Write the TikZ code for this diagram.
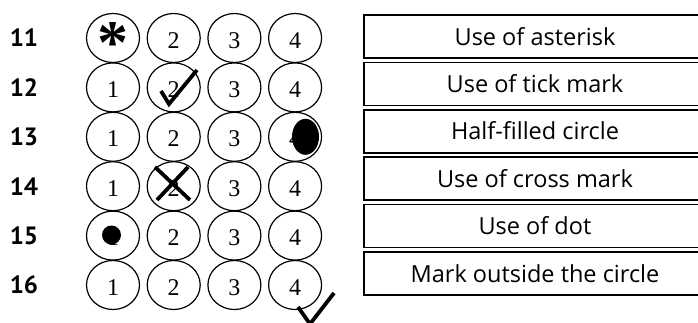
\documentclass[tikz,border=0pt]{standalone}
\usepackage{fontspec}
\setmainfont{Liberation Serif}
\setsansfont{PT Sans}
\newfontfamily\capfont{Open Sans}
\usetikzlibrary{positioning,shapes.geometric,calc}

\begin{document}
\begin{tikzpicture}[x=1pt,y=-1pt,
  bubble/.style={ellipse,draw,line width=1.2pt,minimum width=53pt,
              minimum height=49pt,inner sep=0pt,text height=20pt,text depth=0pt,
              font=\fontsize{24}{24}\selectfont},
  qnum/.style={font=\sffamily\bfseries\fontsize{25}{25}\selectfont},
  optbox/.style={draw,line width=1.6pt,minimum width=342pt,minimum height=43pt,
              inner sep=0pt,text height=17pt,text depth=0pt,
              font=\capfont\fontsize{23.5}{23.5}\selectfont},
  pen/.style={line width=3.8pt,line join=miter},
]
\useasboundingbox (0,0) rectangle (698,322);

% --- answer grid: question number + four bubbles per row
\foreach \q [count=\r from 0] in {11,...,16} {
  \node[qnum] (q\q) at (24,38+49.4*\r) {\q};
  \foreach \c in {1,...,4}
    \node[bubble] (b\q-\c) at (113+60.7*\c-60.7,38+49.4*\r)
      {\ifnum\q\c=111 \else\c\fi};
}

% --- captions, one box per row (right side runs off the page)
\foreach \txt [count=\r from 0] in {Use of asterisk,Use of tick mark,
    Half-filled circle,Use of cross mark,Use of dot,Mark outside the circle}
  \node[optbox] (opt\r) at (535,36.5+47.4*\r) {\txt};

% --- the marks
\node[font=\bfseries\fontsize{62}{62}\selectfont] (ast)
     at ([yshift=-5pt]b11-1.center) {*};
\draw[pen] ([shift={(-12.7,3.6)}]b12-2.center)
        -- ([shift={(-4.7,16.6)}]b12-2.center)
        -- ([shift={(23.3,-17.4)}]b12-2.center);
\fill ([xshift=10.4pt]b13-4.center) ellipse [x radius=13.5pt,y radius=18pt];
\draw[pen] ([shift={(-18.7,-19.2)}]b14-2.center) -- ([shift={(16.3,13.8)}]b14-2.center);
\draw[pen] ([shift={(14.3,-19.2)}]b14-2.center) -- ([shift={(-16.7,13.8)}]b14-2.center);
\fill ([shift={(-1.5,-0.6)}]b15-1.center) circle [radius=9.5pt];
\draw[pen] ([shift={(2.9,22)}]b16-4.center)
        -- ([shift={(14.9,39)}]b16-4.center)
        -- ([shift={(38.9,8)}]b16-4.center);

\end{tikzpicture}
\end{document}
